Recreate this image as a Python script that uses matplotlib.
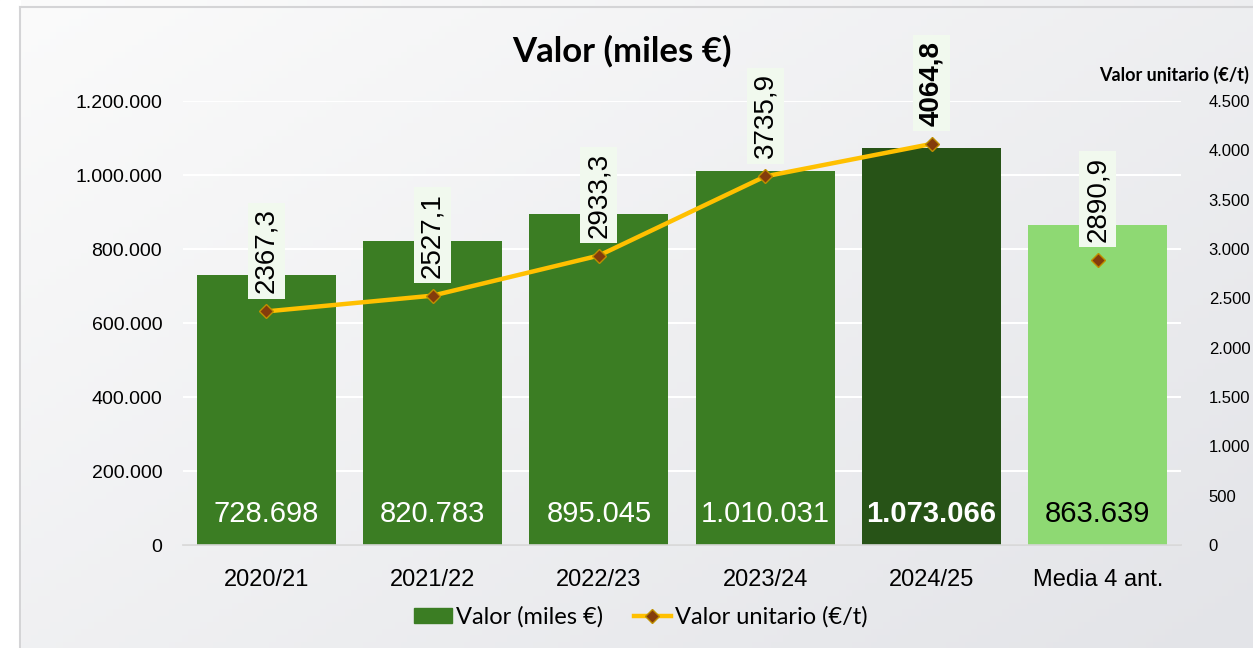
import numpy as np
import matplotlib
matplotlib.use('Agg')
import matplotlib.pyplot as plt
from matplotlib.patches import Patch, Rectangle
from matplotlib.lines import Line2D
from matplotlib.ticker import FuncFormatter

# Datos
categorias = ['2020/21', '2021/22', '2022/23', '2023/24', '2024/25', 'Media 4 ant.']
valor = [728698, 820783, 895045, 1010031, 1073066, 863639]
unitario = [2367.3, 2527.1, 2933.3, 3735.9, 4064.8, 2890.9]

colores = ['#3B7D23', '#3B7D23', '#3B7D23', '#3B7D23', '#275317', '#8ED973']
color_texto = ['white', 'white', 'white', 'white', 'white', 'black']
peso_texto = ['normal', 'normal', 'normal', 'normal', 'bold', 'normal']

plt.rcParams['font.family'] = ['Liberation Sans', 'DejaVu Sans']

def miles(v):
    return f"{int(v):,}".replace(',', '.')

fig = plt.figure(figsize=(12.53, 6.48), dpi=100)

# Fondo degradado
bg = fig.add_axes([0, 0, 1, 1], zorder=-10)
gx, gy = np.meshgrid(np.linspace(0, 1, 200), np.linspace(0, 1, 100))
grad = 0.55 * gx + 0.45 * gy
bg.imshow(grad, cmap=matplotlib.colors.LinearSegmentedColormap.from_list(
    'bgc', ['#fbfbfb', '#e3e4e8']), aspect='auto', extent=[0, 1, 0, 1], origin='upper')
bg.add_patch(Rectangle((0, 0), 20 / 1253, 1, color='white', zorder=2))
bg.plot([20 / 1253, 20 / 1253], [0, 1 - 7 / 648], color='#d4d4d6', lw=1.5, zorder=3)
bg.plot([20 / 1253, 1], [1 - 7 / 648, 1 - 7 / 648], color='#d4d4d6', lw=1.5, zorder=3)
bg.set_xlim(0, 1)
bg.set_ylim(0, 1)
bg.axis('off')

ax = fig.add_axes([183 / 1253, 1 - 545 / 648, (1181 - 183) / 1253, 444 / 648])
ax.set_facecolor('none')
x = np.arange(len(categorias))

barras = ax.bar(x, valor, width=0.835, color=colores, zorder=2)
for xi, v, c, w in zip(x, valor, color_texto, peso_texto):
    ax.annotate(miles(v), (xi, 0), xytext=(0, 31), textcoords='offset pixels',
                ha='center', va='center', fontsize=21, color=c, fontweight=w, zorder=3)

ax.set_xlim(-0.5, len(categorias) - 0.5)
ax.set_ylim(0, 1200000)
ax.set_yticks(np.arange(0, 1200001, 200000))
ax.yaxis.set_major_formatter(FuncFormatter(lambda v, p: miles(v)))
ax.grid(axis='y', color='white', lw=1.5, zorder=0)
ax.set_axisbelow(True)
ax.set_xticks(x)
ax.set_xticklabels(categorias, fontsize=17)
ax.tick_params(axis='x', length=0, pad=17)
ax.tick_params(axis='y', length=0, pad=15, labelsize=14)
for s in ['top', 'right', 'left']:
    ax.spines[s].set_visible(False)
ax.spines['bottom'].set_color('#d6d6d6')
ax.spines['bottom'].set_linewidth(1.2)

# Eje secundario
ax2 = ax.twinx()
ax2.set_ylim(0, 4500)
ax2.set_yticks(np.arange(0, 4501, 500))
ax2.yaxis.set_major_formatter(FuncFormatter(lambda v, p: miles(v)))
ax2.tick_params(axis='y', length=0, pad=20, labelsize=12)
for s in ax2.spines.values():
    s.set_visible(False)

ax2.plot(x[:5], unitario[:5], color='#FFC000', lw=3.2, marker='D', markersize=7,
         markerfacecolor='#843C0C', markeredgecolor='#BF8F00', markeredgewidth=1, zorder=4)
ax2.plot(x[5], unitario[5], marker='D', markersize=7, linestyle='none',
         markerfacecolor='#843C0C', markeredgecolor='#BF8F00', markeredgewidth=1, zorder=4)

for i, (xi, u) in enumerate(zip(x, unitario)):
    ax2.annotate(f"{u:.1f}".replace('.', ','), (xi, u), xytext=(0, 18),
                 textcoords='offset pixels', rotation=90, ha='center', va='bottom',
                 fontsize=20, fontweight='bold' if i == 4 else 'normal',
                 bbox=dict(boxstyle='square,pad=0.2', fc='#f1f9ee', ec='none'), zorder=5)

fig.text(622 / 1253, 1 - 51 / 648, 'Valor (miles €)', ha='center', va='center',
         fontsize=25, fontweight='bold', family=['Lato', 'DejaVu Sans'])
fig.text(1249 / 1253, 1 - 75 / 648, 'Valor unitario (€/t)', ha='right', va='center',
         fontsize=13, fontweight='bold', family=['Lato', 'DejaVu Sans'])

handles = [Patch(color='#3B7D23'),
           Line2D([0], [0], color='#FFC000', lw=3.2, marker='D', markersize=7,
                  markerfacecolor='#843C0C', markeredgecolor='#BF8F00')]
fig.legend(handles, ['Valor (miles €)', 'Valor unitario (€/t)'], loc='center',
           bbox_to_anchor=(641 / 1253, 1 - 617 / 648), ncol=2, frameon=False,
           prop={'family': ['Lato', 'DejaVu Sans'], 'size': 17},
           handlelength=1.6, handleheight=0.6, handletextpad=0.15, columnspacing=1.3)

fig.savefig('out.png', dpi=100)
